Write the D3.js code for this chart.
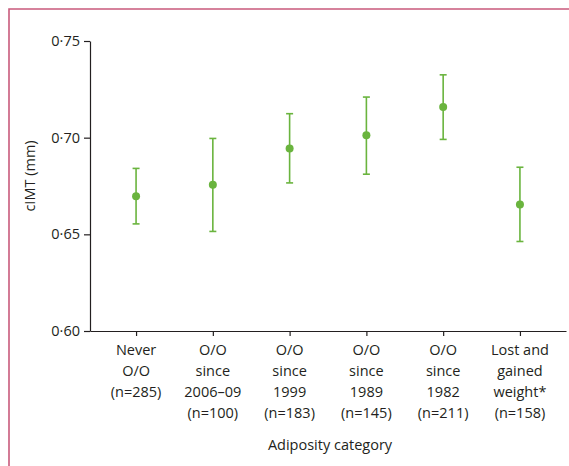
<!DOCTYPE html>
<html>
<head>
<meta charset="utf-8">
<script src="https://cdn.jsdelivr.net/npm/d3@7"></script>
<style>
  body { margin: 0; background: #fff; }
  text { font-family: "Open Sans", Lato, sans-serif; fill: #231f20; }
</style>
</head>
<body>
<script>
// Data
var categories = [
  ["Never", "O/O", "(n=285)"],
  ["O/O", "since", "2006–09", "(n=100)"],
  ["O/O", "since", "1999", "(n=183)"],
  ["O/O", "since", "1989", "(n=145)"],
  ["O/O", "since", "1982", "(n=211)"],
  ["Lost and", "gained", "weight*", "(n=158)"]
];
var means = [0.6697, 0.6756, 0.6944, 0.7012, 0.7158, 0.6654];
var lower = [0.6554, 0.6515, 0.6766, 0.6811, 0.6991, 0.6463];
var upper = [0.6841, 0.6996, 0.7124, 0.7210, 0.7325, 0.6847];
var yTicks = [0.60, 0.65, 0.70, 0.75];

var width = 569,
    height = 466,
    fs = 14.5;

var svg = d3.select("body").append("svg")
    .attr("width", width)
    .attr("height", height);

// pink frame on top and left
svg.append("path")
    .attr("d", "M9,466V9H569")
    .attr("fill", "none")
    .attr("stroke", "#c95a7c")
    .attr("stroke-width", 1.6);

var x = d3.scalePoint()
    .domain(d3.range(categories.length))
    .range([90, 566])
    .padding(0.6);

var y = d3.scaleLinear()
    .domain([0.60, 0.75])
    .range([331, 41]);

// y axis
var yAxis = svg.append("g")
    .attr("transform", "translate(90,0)")
    .call(d3.axisLeft(y)
        .tickValues(yTicks)
        .tickSize(6)
        .tickSizeOuter(0)
        .tickPadding(4)
        .tickFormat(function(d) { return d3.format(".2f")(d).replace(".", "·"); }));
yAxis.selectAll("text").attr("font-size", fs).attr("font-family", null);

// x axis
var xAxis = svg.append("g")
    .attr("transform", "translate(0,331)")
    .call(d3.axisBottom(x)
        .tickSize(5)
        .tickSizeOuter(0)
        .tickFormat(""));
xAxis.selectAll("text").remove();
svg.selectAll(".domain, .tick line").attr("stroke", "#231f20").attr("stroke-width", 1.2);

// multi-line category labels
var labels = svg.append("g").selectAll("text")
  .data(categories)
  .enter().append("text")
    .attr("text-anchor", "middle")
    .attr("font-size", fs)
    .attr("x", function(d, i) { return x(i); })
    .attr("y", 355);
labels.selectAll("tspan")
  .data(function(d) { return d; })
  .enter().append("tspan")
    .attr("x", function() { return d3.select(this.parentNode).attr("x"); })
    .attr("dy", function(d, i) { return i === 0 ? 0 : 21; })
    .text(function(d) { return d; });

// axis titles
svg.append("text")
    .attr("x", 330)
    .attr("y", 450)
    .attr("text-anchor", "middle")
    .attr("font-size", fs)
    .text("Adiposity category");

svg.append("text")
    .attr("transform", "translate(35,176) rotate(-90)")
    .attr("text-anchor", "middle")
    .attr("font-size", fs)
    .text("cIMT (mm)");

// error bars and points
var green = "#6ab43e";
var bars = svg.append("g").selectAll("g")
  .data(means)
  .enter().append("g");

bars.append("line")
    .attr("x1", function(d, i) { return x(i); })
    .attr("x2", function(d, i) { return x(i); })
    .attr("y1", function(d, i) { return y(lower[i]); })
    .attr("y2", function(d, i) { return y(upper[i]); })
    .attr("stroke", green)
    .attr("stroke-width", 1.6);

bars.append("line")
    .attr("x1", function(d, i) { return x(i) - 3.5; })
    .attr("x2", function(d, i) { return x(i) + 3.5; })
    .attr("y1", function(d, i) { return y(upper[i]); })
    .attr("y2", function(d, i) { return y(upper[i]); })
    .attr("stroke", green)
    .attr("stroke-width", 1.6);

bars.append("line")
    .attr("x1", function(d, i) { return x(i) - 3.5; })
    .attr("x2", function(d, i) { return x(i) + 3.5; })
    .attr("y1", function(d, i) { return y(lower[i]); })
    .attr("y2", function(d, i) { return y(lower[i]); })
    .attr("stroke", green)
    .attr("stroke-width", 1.6);

bars.append("circle")
    .attr("cx", function(d, i) { return x(i); })
    .attr("cy", function(d) { return y(d); })
    .attr("r", 4)
    .attr("fill", green);
</script>
</body>
</html>
